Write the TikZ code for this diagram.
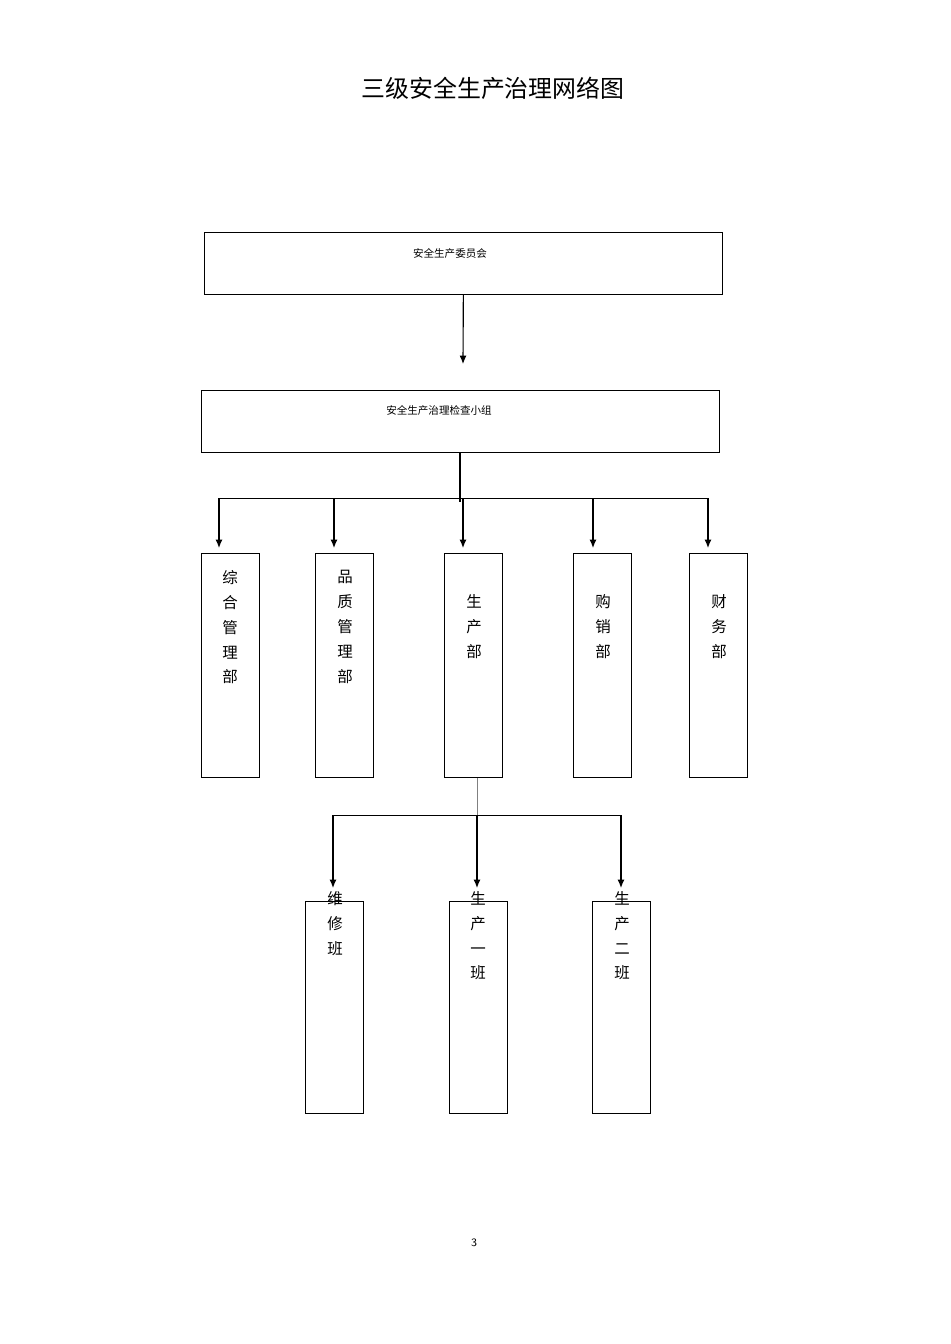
\documentclass[tikz,border=0pt]{standalone}
\usepackage{fontspec}
\newfontfamily\cjk{Noto Sans CJK SC}
\usetikzlibrary{positioning,arrows.meta}
\begin{document}
\begin{tikzpicture}[x=0.025cm,y=-0.025cm]
        \tikzstyle{blk} = [draw, black, thick, -{Latex[length=6pt,width=5pt]}]
        \tikzstyle{wide} = [draw, minimum width=12.95cm, minimum height=1.55cm, inner sep=0pt]
        \tikzstyle{tall} = [draw, minimum width=1.45cm, minimum height=5.6cm, inner sep=0pt]
        \tikzstyle{low} = [draw, minimum width=1.45cm, minimum height=5.3cm, inner sep=0pt]
        \tikzstyle{lbl} = [font=\cjk\fontsize{11}{17.7}\selectfont, align=center, anchor=north, inner sep=0pt]
        \useasboundingbox (0,0) rectangle (950,1344);

        \node[font=\cjk\fontsize{17}{19}\selectfont] (title) at (493,88) {三级安全生产治理网络图};
        \node[wide] (committee) at (463.5,263.5) {};
        \node[font=\cjk\fontsize{7.5}{9}\selectfont] (committee text) at (450,253) {安全生产委员会};
        \node[wide] (group) at (460.5,421) {};
        \node[font=\cjk\fontsize{7.5}{9}\selectfont] (group text) at (439,410) {安全生产治理检查小组};

        % departments
        \node[tall] (admin) at (230.5,665.5) {};
        \node[tall] (quality) at (344.5,665.5) {};
        \node[tall] (production) at (473.5,665.5) {};
        \node[tall] (sales) at (602.5,665.5) {};
        \node[tall] (finance) at (718.5,665.5) {};
        \node[lbl] (admin text) at (230,570) {综\\合\\管\\理\\部};
        \node[lbl] (quality text) at (345,570) {品\\质\\管\\理\\部};
        \node[lbl] (production text) at (474,594) {生\\产\\部};
        \node[lbl] (sales text) at (603,594) {购\\销\\部};
        \node[lbl] (finance text) at (719,594) {财\\务\\部};

        % teams
        \node[low] (repair) at (334.5,1007.5) {};
        \node[low] (line one) at (478,1007.5) {};
        \node[low] (line two) at (621.5,1007.5) {};
        \node[lbl] (repair text) at (335,891) {维\\修\\班};
        \node[lbl] (line one text) at (478,891) {生\\产\\一\\班};
        \node[lbl] (line two text) at (622,891) {生\\产\\二\\班};

        \node[font=\sffamily\fontsize{8}{9}\selectfont] (page) at (474,1243) {3};

        \coordinate (split) at (460,498);
        \coordinate (left end) at (219,498);
        \coordinate (right end) at (708,498);
        \coordinate (team split) at (477,815);
        \coordinate (team left) at (333,815);
        \coordinate (team right) at (621,815);

        \draw[blk] (committee) -- (463,364);
        \draw[thick] (group.south -| split) -- ([yshift=-0.1cm]split);
        \draw (left end) -- (right end);
        \draw[blk] (left end) -- (219,548);
        \draw[blk] (334,498) -- (334,548);
        \draw[blk] (463,498) -- (463,548);
        \draw[blk] (593,498) -- (593,548);
        \draw[blk] (right end) -- (708,548);
        \draw[gray] (production.south -| team split) -- (team split);
        \draw (team left) -- (team right);
        \draw[blk] (team left) -- (333,888);
        \draw[blk] (team split) -- (477,888);
        \draw[blk] (team right) -- (621,888);
\end{tikzpicture}
\end{document}
